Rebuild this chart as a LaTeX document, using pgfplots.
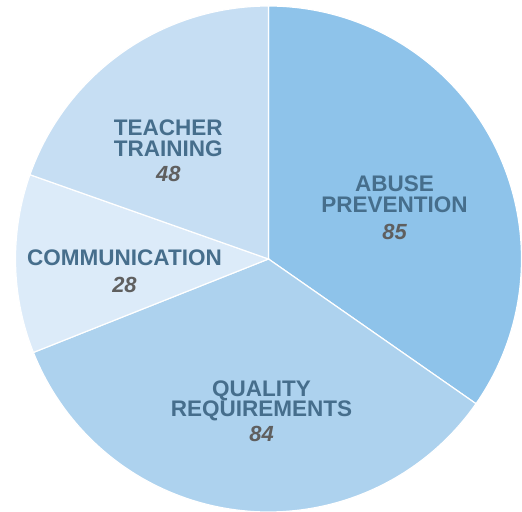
\documentclass[border=0pt]{standalone}
\usepackage{pgfplots}
\pgfplotsset{compat=1.18}
\usepackage{fontspec}
\setmainfont{Liberation Sans}
\definecolor{cAbuse}{RGB}{142,195,234}
\definecolor{cQual}{RGB}{173,210,238}
\definecolor{cComm}{RGB}{220,235,249}
\definecolor{cTeach}{RGB}{198,222,243}
\definecolor{ctxt}{RGB}{70,110,140}
\definecolor{cnum}{RGB}{95,95,95}
\begin{document}
\begin{tikzpicture}
% slice values
\def\vA{85}\def\vB{84}\def\vC{28}\def\vD{48}
\pgfmathsetmacro\tot{\vA+\vB+\vC+\vD}
\pgfmathsetmacro\aZ{90}
\pgfmathsetmacro\aA{\aZ-\vA/\tot*360}
\pgfmathsetmacro\aB{\aA-\vB/\tot*360}
\pgfmathsetmacro\aC{\aB-\vC/\tot*360}
\pgfmathsetmacro\aD{\aC-\vD/\tot*360}
\def\cx{268.5}\def\cy{253}\def\rr{253}
\begin{axis}[
  width=522bp, height=512bp, scale only axis,
  xmin=0, xmax=522, ymin=0, ymax=512,
  hide axis, clip=true,
]
\addplot[fill=cAbuse, draw=white, line width=1.2pt, domain=\aA:\aZ, samples=120, variable=\t]
  ({\cx+\rr*cos(\t)}, {\cy+\rr*sin(\t)}) -- (axis cs:\cx,\cy) -- cycle;
\addplot[fill=cQual, draw=white, line width=1.2pt, domain=\aB:\aA, samples=120, variable=\t]
  ({\cx+\rr*cos(\t)}, {\cy+\rr*sin(\t)}) -- (axis cs:\cx,\cy) -- cycle;
\addplot[fill=cComm, draw=white, line width=1.2pt, domain=\aC:\aB, samples=60, variable=\t]
  ({\cx+\rr*cos(\t)}, {\cy+\rr*sin(\t)}) -- (axis cs:\cx,\cy) -- cycle;
\addplot[fill=cTeach, draw=white, line width=1.2pt, domain=\aD:\aC, samples=80, variable=\t]
  ({\cx+\rr*cos(\t)}, {\cy+\rr*sin(\t)}) -- (axis cs:\cx,\cy) -- cycle;
% labels
\tikzset{lab/.style={anchor=base, inner sep=0pt, text=ctxt, font=\fontsize{22.6}{22}\selectfont\bfseries},
         num/.style={anchor=base, inner sep=0pt, text=cnum, font=\fontsize{22}{22}\selectfont\bfseries\itshape}}
\node[lab] at (axis cs:394.5,{512-191.7}) {ABUSE};
\node[lab] at (axis cs:394.5,{512-212.3}) {PREVENTION};
\node[num] at (axis cs:394.5,{512-240}) {85};
\node[lab] at (axis cs:261.5,{512-396.2}) {QUALITY};
\node[lab] at (axis cs:261.5,{512-416.7}) {REQUIREMENTS};
\node[num] at (axis cs:261.5,{512-441.7}) {84};
\node[lab] at (axis cs:124.5,{512-266}) {COMMUNICATION};
\node[num] at (axis cs:124.5,{512-292.7}) {28};
\node[lab] at (axis cs:168.3,{512-136}) {TEACHER};
\node[lab] at (axis cs:168.3,{512-156.7}) {TRAINING};
\node[num] at (axis cs:168.3,{512-181.7}) {48};
\end{axis}
\path (current axis.south west) rectangle (current axis.north east);
\end{tikzpicture}
\end{document}
